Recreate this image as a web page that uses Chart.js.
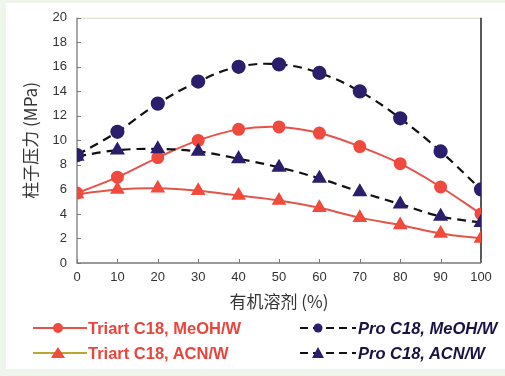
<!DOCTYPE html>
<html><head><meta charset="utf-8">
<script src="https://cdn.jsdelivr.net/npm/chart.js@4/dist/chart.umd.min.js"></script>
<style>
html,body{margin:0;padding:0;width:505px;height:376px;overflow:hidden;background:#eef5ea;}
#paper{position:absolute;left:6px;top:3px;width:499px;height:366px;background:#fff;}
#wrap{position:absolute;left:0;top:0;width:505px;height:376px;}
.leg{position:absolute;font-family:"Liberation Sans",Arial,sans-serif;font-weight:bold;font-size:16.5px;line-height:18px;white-space:nowrap;}
.leg svg{position:absolute;}
</style></head><body>
<div id="paper"></div>
<div id="wrap"><canvas id="c" width="505" height="376"></canvas></div>
<div class="leg" style="left:33px;top:319px;width:230px;height:18px">
 <svg width="56" height="18" style="left:0;top:0"><line x1="0" y1="9" x2="54" y2="9" stroke="#e8524a" stroke-width="2"/><circle cx="25" cy="9" r="5" fill="#f04a3f"/></svg>
 <span style="position:absolute;left:55px;top:0;color:#e8453c">Triart C18, MeOH/W</span>
</div>
<div class="leg" style="left:33px;top:344px;width:230px;height:18px">
 <svg width="56" height="18" style="left:0;top:0"><line x1="0" y1="9" x2="54" y2="9" stroke="#b9a634" stroke-width="2"/><polygon points="25,3 32,14 18,14" fill="#f24a3c"/></svg>
 <span style="position:absolute;left:55px;top:0;color:#e8453c">Triart C18, ACN/W</span>
</div>
<div class="leg" style="left:300px;top:319px;width:205px;height:18px">
 <svg width="58" height="18" style="left:0;top:0"><line x1="0" y1="9" x2="56" y2="9" stroke="#111" stroke-width="2" stroke-dasharray="8,5"/><circle cx="18" cy="9" r="4.5" fill="#2b1f6b"/></svg>
 <span style="position:absolute;left:58px;top:0;color:#1a1245;font-style:italic">Pro C18, MeOH/W</span>
</div>
<div class="leg" style="left:300px;top:344px;width:205px;height:18px">
 <svg width="58" height="18" style="left:0;top:0"><line x1="0" y1="9" x2="56" y2="9" stroke="#111" stroke-width="2" stroke-dasharray="8,5"/><polygon points="18,3 24,14 12,14" fill="#2b1f6b"/></svg>
 <span style="position:absolute;left:58px;top:0;color:#1a1245;font-style:italic">Pro C18, ACN/W</span>
</div>
<script>
const solventPct = [0,10,20,30,40,50,60,70,80,90,100];
const triartMeOH = [5.7,7.0,8.6,10.0,10.9,11.1,10.6,9.5,8.1,6.2,4.0];
const triartACN  = [5.6,6.0,6.1,5.9,5.5,5.1,4.5,3.7,3.1,2.4,2.0];
const proMeOH    = [8.8,10.7,13.0,14.8,16.0,16.2,15.5,14.0,11.8,9.1,6.0];
const proACN     = [8.7,9.2,9.3,9.1,8.5,7.8,6.9,5.8,4.8,3.8,3.3];
const yTicks = [0,2,4,6,8,10,12,14,16,18,20];
const xTicks = [0,10,20,30,40,50,60,70,80,90,100];

function pts(arr){return arr.map((v,i)=>({x:solventPct[i],y:v}));}

const frame = {
  id:'frame',
  beforeDatasetsDraw(chart){
    const {ctx, chartArea:a, scales:{x,y}} = chart;
    ctx.save();
    ctx.lineWidth = 1;
    ctx.strokeStyle = '#d8dcc0';
    ctx.beginPath(); ctx.moveTo(a.left,a.top+0.5); ctx.lineTo(a.right,a.top+0.5); ctx.stroke();
    ctx.strokeStyle = '#222';
    ctx.lineWidth = 1.5;
    ctx.beginPath(); ctx.moveTo(a.right,a.top); ctx.lineTo(a.right,a.bottom); ctx.stroke();
    ctx.strokeStyle = '#7a7a7a';
    ctx.lineWidth = 1.3;
    ctx.beginPath(); ctx.moveTo(a.left,a.top); ctx.lineTo(a.left,a.bottom); ctx.lineTo(a.right,a.bottom); ctx.stroke();
    ctx.lineWidth = 1;
    yTicks.forEach(v=>{const py=Math.round(y.getPixelForValue(v))+0.5; ctx.beginPath(); ctx.moveTo(a.left,py); ctx.lineTo(a.left+4,py); ctx.stroke();});
    xTicks.forEach(v=>{const px=Math.round(x.getPixelForValue(v))+0.5; ctx.beginPath(); ctx.moveTo(px,a.bottom); ctx.lineTo(px,a.bottom-4); ctx.stroke();});
    ctx.restore();
  }
};

const tickFont = {family:'"Liberation Sans", Arial, sans-serif', size:13};
const titleFont = {family:'"Noto Sans CJK SC", "Liberation Sans", sans-serif', size:17};
new Chart(document.getElementById('c'), {
  type:'line',
  data:{datasets:[
    {label:'Pro C18, MeOH/W', data:pts(proMeOH), borderColor:'#111', borderWidth:2.2, borderDash:[9,6], tension:0.4,
     pointStyle:'circle', pointRadius:6, pointBackgroundColor:'#2b1f6b', pointBorderColor:'#2b1f6b'},
    {label:'Pro C18, ACN/W', data:pts(proACN), borderColor:'#111', borderWidth:2.2, borderDash:[9,6], tension:0.4,
     pointStyle:'triangle', pointRadius:6.5, pointBackgroundColor:'#2b1f6b', pointBorderColor:'#2b1f6b'},
    {label:'Triart C18, MeOH/W', data:pts(triartMeOH), borderColor:'#e8524a', borderWidth:2, tension:0.4,
     pointStyle:'circle', pointRadius:5.5, pointBackgroundColor:'#f04a3f', pointBorderColor:'#f04a3f'},
    {label:'Triart C18, ACN/W', data:pts(triartACN), borderColor:'#e0564a', borderWidth:2, tension:0.4,
     pointStyle:'triangle', pointRadius:6.5, pointBackgroundColor:'#f24a3c', pointBorderColor:'#f24a3c'}
  ]},
  options:{
    responsive:false, animation:false,
    layout:{padding:{left:0,top:9,right:24,bottom:63}},
    plugins:{legend:{display:false}, tooltip:{enabled:false}},
    scales:{
      x:{type:'linear', min:0, max:100, afterFit(s){s.height=50;},
         grid:{display:false, drawTicks:false}, border:{display:false},
         ticks:{stepSize:10, padding:7, color:'#333', font:tickFont, maxRotation:0},
         afterBuildTicks(s){s.ticks = xTicks.map(v=>({value:v}));},
         title:{display:true, text:'有机溶剂 (%)', color:'#333', padding:{top:0,bottom:1}, font:titleFont}},
      y:{min:0, max:20, afterFit(s){s.width=77;},
         grid:{display:false, drawTicks:false}, border:{display:false},
         ticks:{stepSize:2, padding:10, color:'#333', font:tickFont},
         afterBuildTicks(s){s.ticks = yTicks.map(v=>({value:v}));},
         title:{display:true, text:'柱子压力 (MPa)', color:'#333', padding:{top:20,bottom:0}, font:titleFont}}
    }
  },
  plugins:[frame]
});
</script>
</body></html>
